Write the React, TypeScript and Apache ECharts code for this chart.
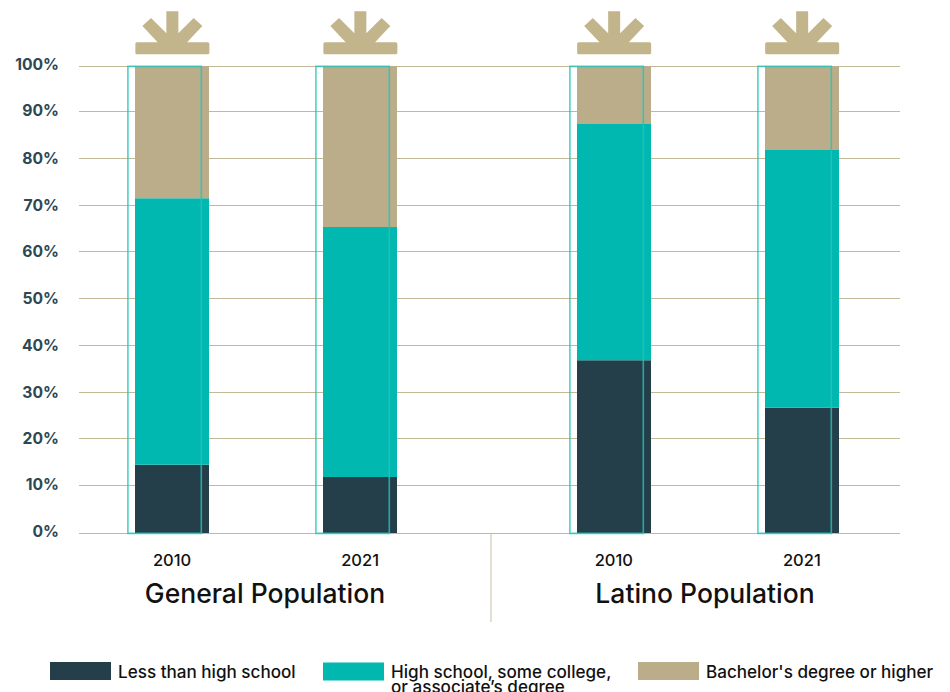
import React, { useEffect, useRef } from "react";
import * as echarts from "echarts";

const years = ["2010", "2021", "2010", "2021"];
const barPositions = [1, 2, 3.35, 4.35];
const lessThanHighSchool = [14.6, 12, 37, 26.8];
const someCollege = [57.1, 53.5, 50.6, 55.2];
const bachelorsOrHigher = [28.3, 34.5, 12.4, 18];
const yTickLabels = ["0%", "10%", "20%", "30%", "40%", "50%", "60%", "70%", "80%", "90%", "100%"];
// Where the hand-placed gridlines and their labels fall on the percentage scale.
const gridLevels = [0, 10.3, 20.2, 30.2, 40.3, 50.3, 60.4, 70.2, 80.3, 90.4, 100];
const labelLevels = [0.3, 10.3, 20.3, 30.05, 40.1, 50.3, 60.2, 70.1, 80.3, 90.4, 100.43];

const seriesNames = [
  "Less than high school",
  "High school, some college,\nor associate’s degree",
  "Bachelor's degree or higher",
];

const DARK = "#253f4a";
const TEAL = "#00b8b0";
const TAN = "#bbad8a";
const FONT = "Inter";

// Sunburst emblem, origin at the middle of its bottom edge.
const EMBLEM =
  "M-35.5 -12 L-14.7 -12 L-30 -28.3 L-21.3 -36.3 L-6 -21 L-6 -43 L6 -43 L6 -21 L21.3 -36.3 L30 -28.3 L14.7 -12 " +
  "L35.5 -12 Q37 -12 37 -10.5 L37 -1.5 Q37 0 35.5 0 L-35.5 0 Q-37 0 -37 -1.5 L-37 -10.5 Q-37 -12 -35.5 -12 Z";

const BAR_WIDTH = 74;

export default function App() {
  const ref = useRef<HTMLDivElement>(null);

  useEffect(() => {
    const chart = echarts.init(ref.current!, null, { renderer: "svg" });

    // Columns sit at uneven x positions, so each stack segment is placed by value on the axes.
    const segment = (name: string, values: number[], below: number[][], color: string) => ({
      name,
      type: "custom",
      itemStyle: { color },
      encode: { x: 0, y: [1, 2] },
      data: barPositions.map((x, i) => {
        const start = below.reduce((sum, s) => sum + s[i], 0);
        return [x, start, start + values[i]];
      }),
      renderItem: (_: unknown, api: any) => {
        const x = api.value(0);
        const lo = api.coord([x, api.value(1)]);
        const hi = api.coord([x, api.value(2)]);
        return {
          type: "rect",
          shape: {
            x: Math.round(lo[0] - BAR_WIDTH / 2),
            y: hi[1],
            width: BAR_WIDTH,
            height: lo[1] - hi[1],
          },
          style: { fill: color },
        };
      },
    });

    const legendAt = (name: string, left: number, top: number, prefix = "") => ({
      data: [name],
      left,
      top,
      padding: 0,
      orient: "horizontal",
      icon: "rect",
      itemWidth: 61,
      itemHeight: 18,
      selectedMode: false,
      formatter: (n: string) => prefix + n,
      textStyle: {
        fontFamily: FONT,
        fontSize: 17.1,
        fontWeight: 500,
        color: "#111",
        lineHeight: 15,
        padding: [0, 0, 0, 2],
      },
    });

    const groupTitle = (text: string, x: number) => ({
      type: "text",
      x,
      y: 593,
      style: {
        text,
        fontFamily: FONT,
        fontSize: 26.5,
        fontWeight: 500,
        fill: "#111",
        align: "center",
        verticalAlign: "middle",
      },
    });

    chart.setOption({
      animation: false,
      grid: { left: 79, right: 50, top: 64, bottom: 159 },
      xAxis: {
        type: "value",
        min: 0.505,
        max: 4.872,
        splitLine: { show: false },
        axisLine: { show: false },
        axisTick: { show: false },
        axisLabel: {
          customValues: barPositions,
          formatter: (v: number) => years[barPositions.indexOf(v)],
          margin: 18,
          fontFamily: FONT,
          fontSize: 16.5,
          fontWeight: 500,
          color: "#111",
        },
      },
      yAxis: {
        type: "value",
        min: 0,
        max: 100.43,
        axisLine: { show: false },
        axisTick: { show: false, customValues: gridLevels },
        splitLine: { lineStyle: { color: "#c3b998", width: 1 } },
        axisLabel: {
          customValues: labelLevels,
          formatter: (v: number) => yTickLabels[labelLevels.indexOf(v)],
          margin: 20,
          fontFamily: FONT,
          fontSize: 15.7,
          fontWeight: 700,
          color: "#2c4853",
        },
      },
      legend: [
        legendAt(seriesNames[0], 50, 662),
        // A blank first line lets the wrapped label start level with its swatch.
        legendAt(seriesNames[1], 323, 648, "\n"),
        legendAt(seriesNames[2], 638, 662),
      ],
      series: [
        segment(seriesNames[0], lessThanHighSchool, [], DARK),
        segment(seriesNames[1], someCollege, [lessThanHighSchool], TEAL),
        segment(seriesNames[2], bachelorsOrHigher, [lessThanHighSchool, someCollege], TAN),
        {
          // Teal outline frames, nudged to the left of each stacked column.
          type: "custom",
          silent: true,
          clip: false,
          z: 5,
          data: barPositions.map((x) => [x, 100]),
          renderItem: (_: unknown, api: any) => {
            const top = api.coord([api.value(0), api.value(1)]);
            const base = api.coord([api.value(0), 0]);
            return {
              type: "rect",
              shape: {
                x: Math.round(top[0] - BAR_WIDTH / 2 - 8) + 0.9,
                y: top[1] + 0.4,
                width: BAR_WIDTH - 0.6,
                height: base[1] - top[1],
              },
              style: { fill: "none", stroke: "#22c4b8", lineWidth: 1.6, opacity: 0.8 },
            };
          },
        },
        {
          // Emblems sitting above each column.
          type: "custom",
          silent: true,
          clip: false,
          z: 6,
          data: barPositions.map((x) => [x, 100]),
          renderItem: (_: unknown, api: any) => {
            const p = api.coord([api.value(0), api.value(1)]);
            return {
              type: "path",
              x: p[0] + 0.3,
              y: p[1] - 11.7,
              shape: { pathData: EMBLEM, x: -37, y: -43, width: 74, height: 43 },
              style: { fill: "#c2b58c" },
            };
          },
        },
      ],
      graphic: [
        {
          type: "line",
          shape: { x1: 491, y1: 533, x2: 491, y2: 622 },
          style: { stroke: "#c9bfa6", lineWidth: 1 },
        },
        groupTitle("General Population", 265),
        groupTitle("Latino Population", 705),
      ],
    });

    return () => chart.dispose();
  }, []);

  return (
    <div
      ref={ref}
      style={{ position: "absolute", left: 0, top: 0, width: 950, height: 692, background: "#fff" }}
    />
  );
}
